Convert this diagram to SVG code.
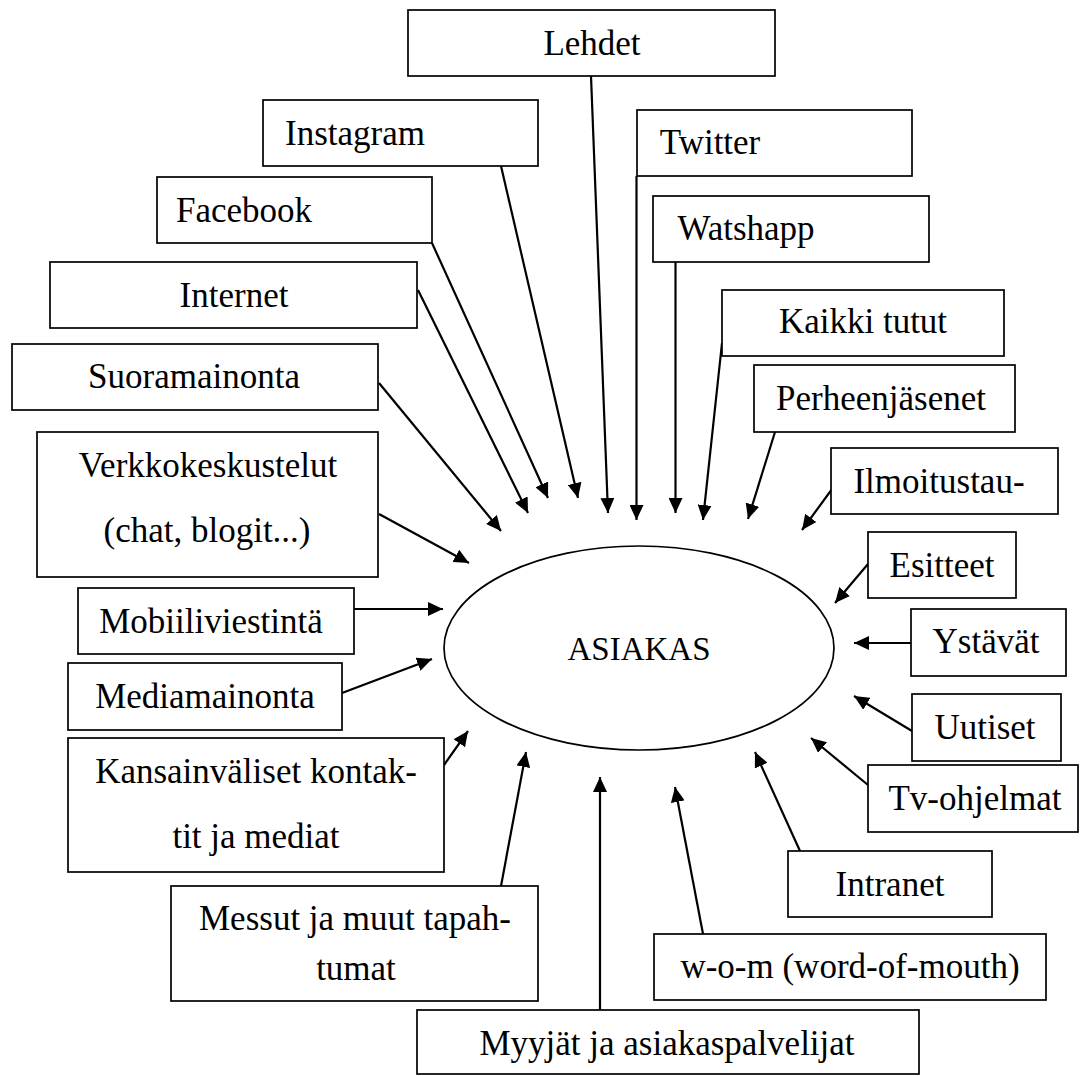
<svg xmlns="http://www.w3.org/2000/svg" width="1080" height="1076" viewBox="0 0 1080 1076">
<defs>
<marker id="ah" markerWidth="15" markerHeight="14" refX="15" refY="7" orient="auto" markerUnits="userSpaceOnUse"><path d="M0,0 L15,7 L0,14 z" fill="#000"/></marker>
<style>
.box{fill:#fff;stroke:#000;stroke-width:1.7}
.t{font-family:"Liberation Serif","Times New Roman",serif;font-size:35px;fill:#000;text-anchor:middle}
.c{fill:none;stroke:#000;stroke-width:2.2;marker-end:url(#ah)}
.e{fill:#fff;stroke:#000;stroke-width:1.7}
</style>
</defs>
<rect width="1080" height="1076" fill="#fff"/>
<g id="connectors">
<line class="c" x1="591" y1="76" x2="608" y2="513"/>
<line class="c" x1="501" y1="166" x2="578" y2="498"/>
<line class="c" x1="432" y1="243" x2="548" y2="498"/>
<line class="c" x1="418" y1="290" x2="528" y2="513"/>
<line class="c" x1="379" y1="383" x2="501" y2="531"/>
<line class="c" x1="379" y1="514" x2="469" y2="563"/>
<line class="c" x1="354" y1="609" x2="443" y2="609"/>
<line class="c" x1="342" y1="693" x2="432" y2="659"/>
<line class="c" x1="444" y1="765" x2="468" y2="731"/>
<line class="c" x1="501" y1="886" x2="526" y2="752"/>
<line class="c" x1="600" y1="1010" x2="600" y2="777"/>
<line class="c" x1="703" y1="934" x2="675" y2="787"/>
<line class="c" x1="800" y1="851" x2="755" y2="752"/>
<line class="c" x1="868" y1="785" x2="811" y2="738"/>
<line class="c" x1="912" y1="731" x2="854" y2="696"/>
<line class="c" x1="911" y1="643" x2="854" y2="643"/>
<line class="c" x1="868" y1="564" x2="835" y2="603"/>
<line class="c" x1="835" y1="485" x2="802" y2="530"/>
<line class="c" x1="775" y1="432" x2="748" y2="519"/>
<line class="c" x1="722" y1="343" x2="703" y2="520"/>
<line class="c" x1="675.5" y1="262" x2="675.5" y2="513"/>
<line class="c" x1="636.5" y1="176" x2="636.5" y2="520"/>
</g>
<g id="asiakas">
<ellipse class="e" cx="639" cy="648" rx="195" ry="102"/>
<text class="t" x="639" y="660" style="font-size:33px">ASIAKAS</text>
</g>
<g id="lehdet"><rect class="box" x="408" y="10" width="367" height="66"/><text class="t" x="592" y="55">Lehdet</text></g>
<g id="instagram"><rect class="box" x="263" y="100" width="275" height="66"/><text class="t" x="355" y="145">Instagram</text></g>
<g id="twitter"><rect class="box" x="637" y="110" width="275" height="66"/><text class="t" x="710" y="154">Twitter</text></g>
<g id="facebook"><rect class="box" x="157" y="177" width="275" height="66"/><text class="t" x="244" y="222">Facebook</text></g>
<g id="watshapp"><rect class="box" x="653" y="196" width="276" height="66"/><text class="t" x="746" y="240">Watshapp</text></g>
<g id="internet"><rect class="box" x="50" y="262" width="367" height="66"/><text class="t" x="234" y="307">Internet</text></g>
<g id="kaikki"><rect class="box" x="722" y="290" width="282" height="66"/><text class="t" x="863" y="333">Kaikki tutut</text></g>
<g id="suoramainonta"><rect class="box" x="12" y="344" width="366" height="66"/><text class="t" x="194" y="388">Suoramainonta</text></g>
<g id="perheenjasenet"><rect class="box" x="754" y="365" width="261" height="67"/><text class="t" x="881" y="410">Perheenjäsenet</text></g>
<g id="verkkokeskustelut"><rect class="box" x="37" y="432" width="341" height="145"/><text class="t" x="208" y="477">Verkkokeskustelut</text><text class="t" x="207" y="542">(chat, blogit...)</text></g>
<g id="ilmoitustau"><rect class="box" x="831" y="448" width="227" height="66"/><text class="t" x="939" y="493">Ilmoitustau-</text></g>
<g id="esitteet"><rect class="box" x="868" y="532" width="148" height="66"/><text class="t" x="942" y="577">Esitteet</text></g>
<g id="mobiiliviestinta"><rect class="box" x="78" y="588" width="276" height="66"/><text class="t" x="211" y="633">Mobiiliviestintä</text></g>
<g id="ystavat"><rect class="box" x="911" y="609" width="155" height="67"/><text class="t" x="986" y="653">Ystävät</text></g>
<g id="mediamainonta"><rect class="box" x="68" y="663" width="274" height="67"/><text class="t" x="205" y="708">Mediamainonta</text></g>
<g id="uutiset"><rect class="box" x="912" y="694" width="149" height="67"/><text class="t" x="985" y="739">Uutiset</text></g>
<g id="kansainvaliset"><rect class="box" x="68" y="738" width="376" height="134"/><text class="t" x="256" y="783">Kansainväliset kontak-</text><text class="t" x="256" y="848">tit ja mediat</text></g>
<g id="tv"><rect class="box" x="868" y="765" width="210" height="67"/><text class="t" x="975" y="810">Tv-ohjelmat</text></g>
<g id="intranet"><rect class="box" x="788" y="851" width="204" height="66"/><text class="t" x="890" y="896">Intranet</text></g>
<g id="messut"><rect class="box" x="171" y="886" width="367" height="115"/><text class="t" x="355" y="930">Messut ja muut tapah-</text><text class="t" x="356" y="980">tumat</text></g>
<g id="wom"><rect class="box" x="654" y="934" width="392" height="66"/><text class="t" x="850" y="978">w-o-m (word-of-mouth)</text></g>
<g id="myyjat"><rect class="box" x="417" y="1010" width="502" height="64"/><text class="t" x="667" y="1055">Myyjät ja asiakaspalvelijat</text></g>
</svg>
